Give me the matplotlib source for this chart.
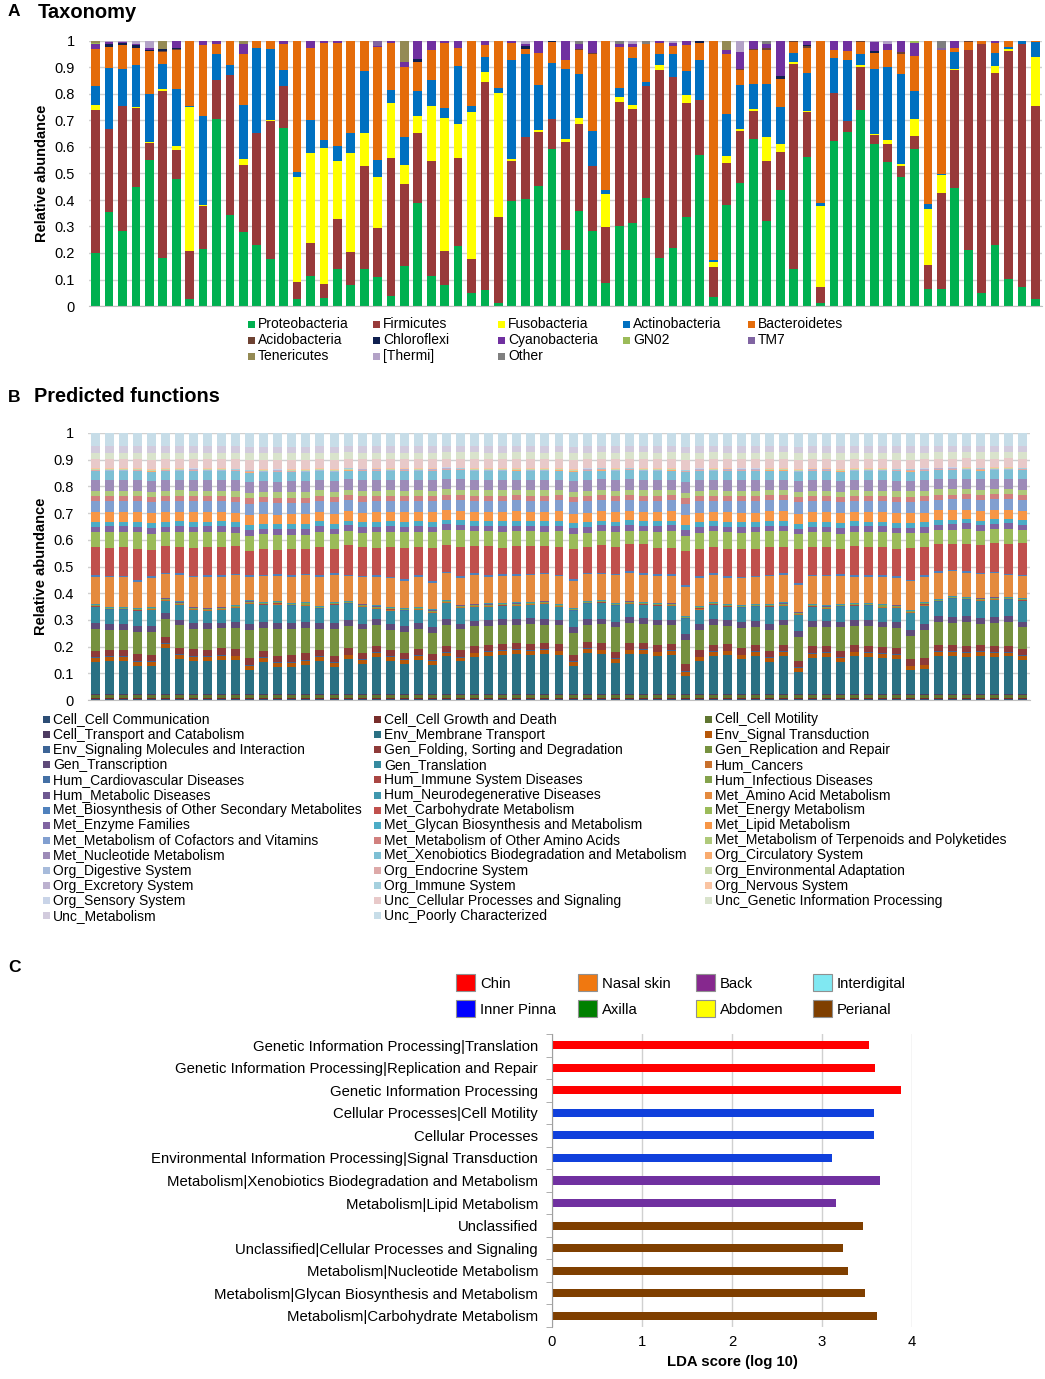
import numpy as np
import matplotlib
matplotlib.use("Agg")
import matplotlib.pyplot as plt
from matplotlib.patches import Rectangle

plt.rcParams['font.family'] = ['Liberation Sans', 'DejaVu Sans']

W, H = 1045, 1379

# ---------------- panel A data (cumulative tops) ----------------
proteo_top = [.20, .353, .283, .45, .552, .183, .481, .026, .215, .707, .343, .278, .232, .177, .673,
              .026, .114, .029, .139, .079, .139, .111, .039, .152, .387, .114, .079, .227, .048, .06,
              .013, .397, .403, .452, .594, .211, .359, .283, .085, .303, .312, .406, .18, .217, .337,
              .569, .033, .383, .465, .629, .322, .437, .138, .563, .01, .622, .655, .739, .613, .544,
              .485, .592, .064, .064, .447, .211, .048, .23, .103, .073, .025]
firmi_top = [.74, .667, .754, .749, .616, .812, .59, .207, .378, .852, .871, .531, .651, .698, .829,
             .089, .236, .083, .327, .202, .529, .293, .557, .462, .653, .548, .207, .557, .177, .845,
             .337, .546, .636, .655, .704, .619, .685, .529, .299, .77, .742, .83, .892, .864, .766,
             .779, .148, .538, .66, .736, .548, .582, .915, .732, .073, .805, .698, .902, .647, .613,
             .529, .642, .155, .427, .892, .967, .99, .879, .961, .99, .755]
fuso_top = [.76, .667, .756, .751, .618, .817, .603, .751, .382, .854, .871, .554, .651, .702, .829,
            .487, .579, .598, .546, .579, .651, .487, .766, .531, .717, .754, .711, .685, .732, .883,
            .804, .553, .638, .663, .704, .629, .711, .529, .421, .789, .758, .832, .908, .864, .795,
            .779, .165, .567, .667, .744, .638, .611, .92, .734, .378, .805, .698, .911, .65, .626,
            .535, .704, .366, .494, .894, .967, .99, .905, .971, .99, .94]
actino_top = [.83, .898, .896, .91, .80, .912, .82, .755, .716, .952, .908, .757, .974, .969, .889,
              .506, .701, .626, .603, .651, .887, .55, .814, .638, .812, .852, .749, .906, .754, .94,
              .824, .93, .95, .833, .917, .893, .877, .661, .437, .824, .937, .845, .95, .95, .886,
              .927, .173, .726, .833, .839, .837, .751, .955, .879, .387, .937, .93, .952, .896, .90,
              .877, .81, .384, .50, .959, .967, .99, .955, .977, 1.0, .996]
bactero_top = [.97, .977, .984, .975, .961, .959, .965, 1.0, .986, .99, 1.0, .952, 1.0, 1.0, .987,
               1.0, .975, .994, .994, 1.0, 1.0, .977, .994, .90, .921, .967, .994, .975, 1.0, .984,
               1.0, .994, .971, .955, .996, .93, .965, .95, 1.0, .977, .977, .99, .994, .981, .984,
               .994, 1.0, .95, .892, .965, .967, .858, .996, .974, 1.0, .967, .962, .996, .955, .967,
               .95, .943, 1.0, .965, .975, .996, 1.0, .992, 1.0, 1.0, 1.0]

# minor phyla, sample number -> abundance
acido = {6: .004, 7: .004, 37: .005, 38: .005, 49: .004, 50: .004, 51: .005, 53: .004,
         54: .006, 58: .004, 61: .009, 66: .004}
chloro = {2: .01, 3: .008, 4: .01, 5: .004, 6: .005, 7: .003, 25: .01, 33: .012, 35: .004,
          46: .006, 52: .009, 54: .005, 59: .008}
cyano = {1: .017, 2: .008, 3: .005, 4: .005, 5: .01, 7: .028, 9: .014, 10: .01, 12: .038,
         15: .013, 17: .025, 18: .006, 19: .006, 22: .003, 23: .006, 24: .019, 25: .069,
         26: .033, 27: .006, 28: .025, 30: .016, 32: .006, 33: .007, 34: .045, 36: .07,
         37: .02, 38: .045, 40: .01, 41: .01, 43: .006, 44: .01, 45: .016, 48: .015, 49: .063,
         50: .031, 51: .015, 52: .133, 54: .015, 56: .033, 57: .038, 59: .032, 60: .023,
         61: .041, 62: .05, 65: .025, 68: .008}
gn02 = {1: .005, 62: .007}
tm7 = {22: .02, 64: .01}
teneri = {1: .008, 6: .032, 12: .01, 24: .081, 48: .035}
thermi = {2: .005, 3: .003, 4: .01, 5: .025, 33: .01, 41: .013, 44: .009, 49: .041, 59: .005, 60: .01}
other = {37: .01, 40: .013, 42: .01, 51: .013, 64: .025}

phyla = ['Proteobacteria', 'Firmicutes', 'Fusobacteria', 'Actinobacteria', 'Bacteroidetes',
         'Acidobacteria', 'Chloroflexi', 'Cyanobacteria', 'GN02', 'TM7',
         'Tenericutes', '[Thermi]', 'Other']
phyla_colors = ['#00B050', '#983A3A', '#FFFF00', '#0070C0', '#E46C0A',
                '#6E4232', '#0F1F4F', '#7030A0', '#9BBB59', '#8064A2',
                '#948A54', '#B3A2C7', '#7F7F7F']

# ---------------- panel B data ----------------
functions = ['Cell_Cell Communication', 'Cell_Cell Growth and Death', 'Cell_Cell Motility',
             'Cell_Transport and Catabolism', 'Env_Membrane Transport', 'Env_Signal Transduction',
             'Env_Signaling Molecules and Interaction', 'Gen_Folding, Sorting and Degradation',
             'Gen_Replication and Repair', 'Gen_Transcription', 'Gen_Translation', 'Hum_Cancers',
             'Hum_Cardiovascular Diseases', 'Hum_Immune System Diseases', 'Hum_Infectious Diseases',
             'Hum_Metabolic Diseases', 'Hum_Neurodegenerative Diseases', 'Met_Amino Acid Metabolism',
             'Met_Biosynthesis of Other Secondary Metabolites', 'Met_Carbohydrate Metabolism',
             'Met_Energy Metabolism', 'Met_Enzyme Families', 'Met_Glycan Biosynthesis and Metabolism',
             'Met_Lipid Metabolism', 'Met_Metabolism of Cofactors and Vitamins',
             'Met_Metabolism of Other Amino Acids', 'Met_Metabolism of Terpenoids and Polyketides',
             'Met_Nucleotide Metabolism', 'Met_Xenobiotics Biodegradation and Metabolism',
             'Org_Circulatory System', 'Org_Digestive System', 'Org_Endocrine System',
             'Org_Environmental Adaptation', 'Org_Excretory System', 'Org_Immune System',
             'Org_Nervous System', 'Org_Sensory System', 'Unc_Cellular Processes and Signaling',
             'Unc_Genetic Information Processing', 'Unc_Metabolism', 'Unc_Poorly Characterized']
function_colors = ['#2C4D75', '#772C2A', '#5F7530', '#4D3B62', '#2A7083', '#B65708',
                   '#3C6496', '#8E3A38', '#76913F', '#5F4B7A', '#358A9F', '#C8702C',
                   '#4470A5', '#A94542', '#84A24C', '#6E5891', '#3F97AE', '#E48A3E',
                   '#4F81BD', '#C0504D', '#9BBB59', '#8064A2', '#4BACC6', '#F79646',
                   '#819FD0', '#D1807E', '#AFC97A', '#9D8BB8', '#7DBFD4', '#F9AB6E',
                   '#A7BBDB', '#DDA9A8', '#C8D8A8', '#BCB1CF', '#A5D0DE', '#FAC4A2',
                   '#C9D4E8', '#E8C9C9', '#D9E3CC', '#D2CBDD', '#C7DDE8']
# typical share of the categories that hardly change between samples
typical = {'Cell_Cell Communication': .002, 'Cell_Cell Growth and Death': .004,
           'Cell_Cell Motility': .013, 'Cell_Transport and Catabolism': .003,
           'Env_Signal Transduction': .015, 'Env_Signaling Molecules and Interaction': .003,
           'Gen_Folding, Sorting and Degradation': .024, 'Gen_Transcription': .022,
           'Hum_Cancers': .002, 'Hum_Cardiovascular Diseases': .001, 'Hum_Immune System Diseases': .001,
           'Hum_Infectious Diseases': .004, 'Hum_Metabolic Diseases': .001,
           'Hum_Neurodegenerative Diseases': .003,
           'Met_Biosynthesis of Other Secondary Metabolites': .006, 'Met_Enzyme Families': .021,
           'Met_Glycan Biosynthesis and Metabolism': .018, 'Met_Lipid Metabolism': .036,
           'Met_Metabolism of Cofactors and Vitamins': .042, 'Met_Metabolism of Other Amino Acids': .019,
           'Met_Metabolism of Terpenoids and Polyketides': .02, 'Met_Nucleotide Metabolism': .04,
           'Met_Xenobiotics Biodegradation and Metabolism': .034, 'Org_Circulatory System': .001,
           'Org_Digestive System': .001, 'Org_Endocrine System': .002, 'Org_Environmental Adaptation': .002,
           'Org_Excretory System': .001, 'Org_Immune System': .001, 'Org_Nervous System': .002,
           'Org_Sensory System': .0005, 'Unc_Cellular Processes and Signaling': .034,
           'Unc_Genetic Information Processing': .025, 'Unc_Metabolism': .024,
           'Unc_Poorly Characterized': .05}
membrane = [.122, .126, .125, .108, .103, .173, .133, .126, .126, .131, .126, .088, .118, .098, .10,
            .108, .126, .10, .133, .113, .14, .126, .113, .13, .111, .146, .126, .14, .146, .148,
            .153, .15, .153, .148, .103, .153, .153, .118, .153, .153, .143, .15, .066, .123, .145,
            .146, .13, .143, .123, .145, .081, .138, .141, .118, .143, .14, .138, .131, .088, .093,
            .148, .148, .146, .146, .146, .148, .133]
replication = [.082, .074, .075, .084, .087, .07, .085, .077, .079, .076, .081, .102, .084, .099, .095,
               .092, .079, .097, .087, .087, .08, .077, .08, .075, .079, .081, .081, .075, .071, .072,
               .07, .075, .067, .072, .082, .065, .072, .092, .077, .072, .075, .07, .087, .077, .075,
               .069, .075, .067, .08, .075, .089, .072, .069, .087, .072, .075, .072, .074, .085, .105,
               .09, .087, .094, .082, .089, .092, .082]
translation = [.059, .053, .053, .056, .058, .045, .057, .05, .046, .048, .051, .073, .061, .066, .063,
               .061, .053, .066, .06, .063, .038, .05, .055, .05, .053, .061, .061, .053, .051, .048,
               .05, .05, .058, .048, .058, .055, .058, .058, .053, .048, .05, .053, .055, .053, .053,
               .048, .053, .053, .063, .053, .058, .053, .048, .053, .053, .053, .053, .053, .065, .07,
               .053, .068, .063, .065, .068, .063, .078]
amino = [.103, .112, .112, .099, .107, .088, .101, .11, .115, .112, .11, .085, .095, .093, .096,
         .10, .11, .10, .095, .098, .107, .11, .102, .113, .10, .102, .102, .11, .102, .105,
         .102, .10, .10, .105, .10, .10, .10, .105, .107, .105, .105, .102, .105, .107, .105,
         .10, .10, .10, .107, .105, .10, .105, .11, .105, .10, .10, .105, .10, .105, .095,
         .10, .095, .095, .09, .09, .085, .085]
carbohydrate = [.105, .105, .109, .12, .098, .10, .10, .105, .109, .109, .105, .088, .096, .088, .096,
                .09, .108, .09, .112, .106, .103, .111, .117, .108, .125, .105, .114, .103, .11, .10,
                .107, .105, .10, .105, .113, .097, .105, .10, .105, .11, .10, .10, .125, .103, .10,
                .103, .105, .10, .105, .10, .125, .105, .105, .095, .11, .105, .105, .10, .118, .105,
                .105, .10, .105, .105, .11, .115, .12]
energy = [.058, .06, .057, .062, .06, .053, .057, .058, .055, .056, .048, .055, .054, .055, .052,
          .053, .057, .055, .055, .055, .06, .06, .06, .057, .06, .057, .063, .055, .055, .06,
          .056, .056, .055, .06, .055, .053, .055, .058, .05, .048, .06, .065, .055, .06, .058,
          .062, .06, .062, .06, .06, .055, .055, .055, .055, .055, .058, .058, .06, .055, .055,
          .055, .055, .06, .055, .055, .06, .05]

# ---------------- panel C data ----------------
lda_terms = ['Genetic Information Processing|Translation',
             'Genetic Information Processing|Replication and Repair',
             'Genetic Information Processing',
             'Cellular Processes|Cell Motility',
             'Cellular Processes',
             'Environmental Information Processing|Signal Transduction',
             'Metabolism|Xenobiotics Biodegradation and Metabolism',
             'Metabolism|Lipid Metabolism',
             'Unclassified',
             'Unclassified|Cellular Processes and Signaling',
             'Metabolism|Nucleotide Metabolism',
             'Metabolism|Glycan Biosynthesis and Metabolism',
             'Metabolism|Carbohydrate Metabolism']
lda_scores = [3.52, 3.59, 3.88, 3.58, 3.58, 3.11, 3.64, 3.16, 3.46, 3.23, 3.29, 3.48, 3.61]
lda_sites = ['Chin', 'Chin', 'Chin', 'Inner Pinna', 'Inner Pinna', 'Inner Pinna',
             'Back', 'Back', 'Perianal', 'Perianal', 'Perianal', 'Perianal', 'Perianal']
site_names = ['Chin', 'Inner Pinna', 'Nasal skin', 'Axilla', 'Back', 'Abdomen', 'Interdigital', 'Perianal']
site_colors = {'Chin': '#FF0000', 'Inner Pinna': '#0000FF', 'Nasal skin': '#F07810', 'Axilla': '#008000',
               'Back': '#86288E', 'Abdomen': '#FFFF00', 'Interdigital': '#80E8F2', 'Perianal': '#7F3F00'}
bar_colors_c = {'Chin': '#FF0000', 'Inner Pinna': '#1040DC', 'Back': '#7030A0', 'Perianal': '#7F3F00'}


def fx(x):
    return x / W


def fy(y):
    return 1 - y / H


def ax_rect(left, top, right, bottom):
    return [fx(left), fy(bottom), (right - left) / W, (bottom - top) / H]


def style_stack_axes(ax):
    ax.set_ylim(0, 1)
    ax.set_yticks(np.arange(0, 1.01, 0.1))
    ax.set_yticklabels(['{:g}'.format(round(v, 1)) for v in np.arange(0, 1.01, 0.1)], fontsize=10.5)
    ax.set_xticks([])
    ax.tick_params(axis='y', length=0, pad=10)
    ax.grid(axis='y', color='#D0D0D0', linewidth=1)
    ax.set_axisbelow(True)
    for s in ['top', 'right', 'left']:
        ax.spines[s].set_visible(False)
    ax.spines['bottom'].set_color('#C0C0C0')
    ax.set_ylabel('Relative abundance', fontsize=10.5, fontweight='bold', labelpad=4)


def square(x, y, size, color, edge=None):
    fig.patches.append(Rectangle((fx(x), fy(y + size[1] / 2)), size[0] / W, size[1] / H,
                                 facecolor=color, edgecolor=edge if edge else 'none',
                                 linewidth=0.8, transform=fig.transFigure))


fig = plt.figure(figsize=(W / 100, H / 100), dpi=100)

# ---------------- A ----------------
axA = fig.add_axes(ax_rect(89, 41, 1042, 306))
n_a = len(proteo_top)
xa = np.arange(n_a)
tops = [np.array(proteo_top), np.array(firmi_top), np.array(fuso_top),
        np.array(actino_top), np.array(bactero_top)]
main_vals = [tops[0]] + [tops[i] - tops[i - 1] for i in range(1, 5)]
minor_vals = []
for d in [acido, chloro, cyano, gn02, tm7, teneri, thermi, other]:
    minor_vals.append(np.array([d.get(i + 1, 0.0) for i in range(n_a)]))
bottom = np.zeros(n_a)
for vals, col in zip(main_vals + minor_vals, phyla_colors):
    axA.bar(xa, vals, bottom=bottom, width=0.65, color=col, linewidth=0)
    bottom += vals
axA.set_xlim(-0.5, n_a - 0.5)
style_stack_axes(axA)

fig.text(fx(8), fy(12), 'A', fontsize=12.5, fontweight='bold', va='center')
fig.text(fx(38), fy(12), 'Taxonomy', fontsize=14.5, fontweight='bold', va='center')

for i, (name, col) in enumerate(zip(phyla, phyla_colors)):
    r, c = divmod(i, 5)
    x0 = 248 + 125 * c
    y0 = 324 + 16 * r
    square(x0, y0, (7, 7), col)
    fig.text(fx(x0 + 10), fy(y0), name, fontsize=10, va='center')

# ---------------- B ----------------
axB = fig.add_axes(ax_rect(88, 433, 1030, 700))
n_b = len(membrane)
xb = np.arange(n_b)
varying = {'Env_Membrane Transport': membrane, 'Gen_Replication and Repair': replication,
           'Gen_Translation': translation, 'Met_Amino Acid Metabolism': amino,
           'Met_Carbohydrate Metabolism': carbohydrate, 'Met_Energy Metabolism': energy}
table = np.array([np.array(varying[f]) if f in varying else np.full(n_b, typical[f])
                  for f in functions])
table = table / table.sum(axis=0)
bottom = np.zeros(n_b)
for vals, col in zip(table, function_colors):
    axB.bar(xb, vals, bottom=bottom, width=0.64, color=col, linewidth=0)
    bottom += vals
axB.set_xlim(-0.5, n_b - 0.5)
style_stack_axes(axB)

fig.text(fx(8), fy(397), 'B', fontsize=12.5, fontweight='bold', va='center')
fig.text(fx(34), fy(397), 'Predicted functions', fontsize=14.3, fontweight='bold', va='center')

for i, (name, col) in enumerate(zip(functions, function_colors)):
    r, c = divmod(i, 3)
    x0 = 43 + 331 * c
    y0 = 719.5 + 15.1 * r
    square(x0, y0, (7, 7), col)
    fig.text(fx(x0 + 10), fy(y0), name, fontsize=10, va='center')

# ---------------- C ----------------
fig.text(fx(8), fy(967), 'C', fontsize=12.5, fontweight='bold', va='center')
for i, name in enumerate(site_names):
    r, c = i % 2, i // 2
    x0 = [456, 578, 696, 813][c]
    y0 = 982 + 26 * r
    square(x0, y0, (19, 17), site_colors[name], edge='#909090')
    fig.text(fx(x0 + 24), fy(y0 + 2), name, fontsize=10.7, va='center')

axC = fig.add_axes(ax_rect(552, 1034, 912, 1327))
yc = np.arange(len(lda_terms))
axC.barh(yc, lda_scores, height=0.36, color=[bar_colors_c[s] for s in lda_sites], linewidth=0)
axC.set_ylim(len(lda_terms) - 0.5, -0.5)
axC.set_xlim(0, 4)
axC.set_xticks(range(5))
axC.set_yticks(yc)
axC.set_yticklabels(lda_terms, fontsize=10.7)
axC.set_yticks(np.arange(-0.5, len(lda_terms), 1), minor=True)
axC.tick_params(axis='y', which='major', length=0, pad=10)
axC.tick_params(axis='y', which='minor', length=4, color='#A0A0A0')
axC.tick_params(axis='x', length=0, labelsize=10.7, pad=6)
axC.grid(axis='x', color='#D0D0D0', linewidth=1)
axC.set_axisbelow(True)
for s in ['top', 'right', 'bottom']:
    axC.spines[s].set_visible(False)
axC.spines['left'].set_color('#A0A0A0')
axC.set_xlabel('LDA score (log 10)', fontsize=10.7, fontweight='bold', labelpad=4)

fig.savefig('out.png', dpi=100)
